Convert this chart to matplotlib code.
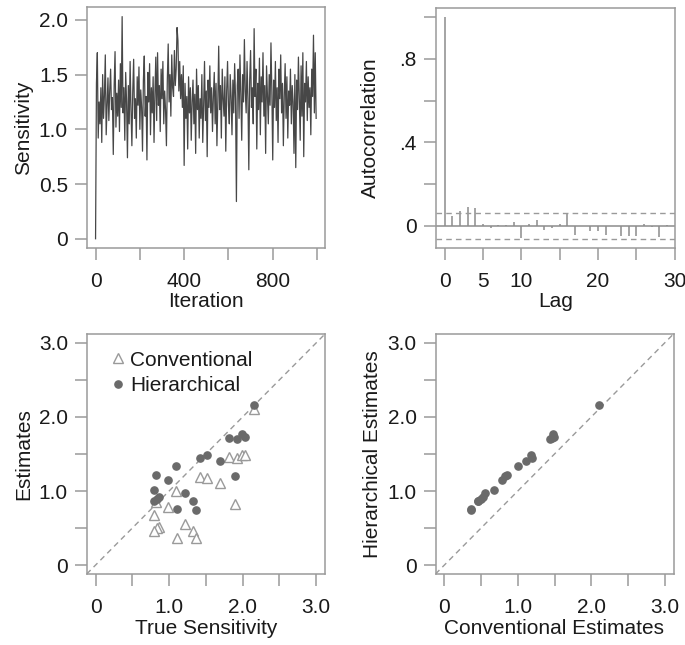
import numpy as np
import matplotlib
matplotlib.use("Agg")
import matplotlib.pyplot as plt

plt.rcParams["font.family"] = ["Liberation Sans", "DejaVu Sans"]
plt.rcParams["font.size"] = 15

# MCMC trace of sensitivity (every 4th iteration)
trace = [
    0.00, 1.42, 1.70, 0.92, 1.25, 1.05, 1.38, 0.88, 1.50, 1.10,
    1.31, 1.68, 0.95, 1.22, 1.47, 1.08, 1.36, 1.55, 1.18, 1.29,
    0.77, 1.40, 1.71, 1.02, 1.33, 1.12, 1.45, 0.98, 1.60, 1.20,
    2.03, 1.15, 1.38, 0.90, 1.52, 1.25, 0.74, 1.40, 1.05, 1.62,
    1.18, 0.85, 1.35, 1.64, 1.10, 1.28, 0.92, 1.48, 1.22, 1.57,
    1.00, 1.36, 1.20, 0.80, 1.45, 1.67, 1.12, 1.30, 0.72, 1.52,
    1.25, 1.60, 0.95, 1.38, 1.15, 1.48, 0.88, 1.32, 1.66, 1.08,
    1.70, 1.22, 1.40, 0.98, 1.55, 1.28, 1.62, 1.05, 1.35, 1.18,
    0.85, 1.45, 1.78, 1.25, 1.50, 1.12, 1.68, 1.38, 1.30, 1.72,
    1.40, 1.55, 1.93, 1.81, 1.35, 1.62, 1.28, 1.50, 1.20, 1.58,
    0.67, 1.42, 1.10, 1.30, 0.82, 1.48, 1.15, 1.38, 0.90, 1.25,
    1.45, 1.05, 1.32, 0.78, 1.55, 1.18, 1.40, 0.92, 1.28, 1.10,
    1.50, 0.88, 1.22, 1.62, 1.08, 1.35, 0.75, 1.45, 1.20, 1.58,
    1.15, 1.38, 0.98, 1.30, 1.52, 1.05, 1.42, 0.85, 1.25, 1.76,
    1.18, 1.40, 0.92, 1.55, 1.28, 1.12, 1.48, 0.80, 1.35, 1.62,
    1.22, 1.05, 1.50, 1.30, 0.95, 1.45, 1.15, 1.60, 1.28, 0.34,
    1.40, 1.55, 1.10, 1.68, 1.32, 0.90, 1.50, 1.25, 1.82, 1.35,
    1.15, 1.62, 1.28, 0.63, 1.45, 1.72, 1.20, 1.38, 1.05, 1.92,
    1.30, 1.55, 0.82, 1.42, 1.18, 1.65, 0.95, 1.48, 1.25, 1.70,
    1.12, 1.40, 0.78, 1.58, 1.30, 1.05, 1.50, 1.22, 1.79, 1.35,
    0.72, 1.45, 1.20, 1.62, 1.08, 1.38, 0.88, 1.55, 1.28, 1.68,
    1.15, 1.42, 0.85, 1.30, 1.60, 1.10, 1.48, 0.92, 1.35, 1.22,
    1.55, 1.05, 1.40, 1.25, 0.78, 1.50, 0.65, 1.45, 1.18, 1.66,
    1.30, 0.90, 1.58, 1.12, 1.70, 0.75, 1.42, 1.25, 1.62, 1.08,
    1.48, 1.20, 1.38, 0.95, 1.55, 1.30, 1.86, 1.15, 1.70, 1.10,
]
iter_step = 4

# autocorrelation, lags 0..30
acf = [1.0, 0.049, 0.070, 0.089, 0.086, 0.010, -0.013, 0.002, 0.006, 0.016,
       -0.057, 0.008, 0.030, -0.021, -0.010, 0.010, 0.061, -0.043, -0.002, -0.024,
       -0.024, -0.043, 0.001, -0.049, -0.049, -0.048, 0.008, -0.006, -0.053, 0.003, 0.0]
conf = 0.062

# per-subject sensitivities
true_sens = [2.15, 1.82, 1.92, 1.99, 2.03, 1.42, 1.52, 1.09, 1.69, 1.89,
             0.82, 0.98, 1.22, 0.80, 0.86, 0.84, 0.79, 1.11, 1.33, 1.37]
conventional = [2.11, 1.46, 1.44, 1.48, 1.49, 1.19, 1.18, 1.00, 1.11, 0.83,
                0.85, 0.78, 0.56, 0.67, 0.52, 0.50, 0.46, 0.36, 0.46, 0.36]
hierarchical = [2.16, 1.71, 1.70, 1.77, 1.73, 1.45, 1.48, 1.34, 1.40, 1.20,
                1.21, 1.15, 0.98, 1.02, 0.92, 0.89, 0.86, 0.76, 0.86, 0.75]

box_col = "#9a9a9a"
txt_col = "#1a1a1a"

fig = plt.figure(figsize=(6.85, 6.45), dpi=100)
W, H = 685, 645


def make_ax(x0, y0, x1, y1):
    ax = fig.add_axes([x0 / W, 1 - y1 / H, (x1 - x0) / W, (y1 - y0) / H])
    for s in ax.spines.values():
        s.set_color(box_col)
        s.set_linewidth(1.1)
    ax.tick_params(direction="out", length=8.5, width=1.1, color=box_col,
                   labelcolor=txt_col, labelsize=15)
    ax.tick_params(axis="x", pad=9)
    ax.tick_params(axis="y", pad=5)
    return ax


# top left: trace
ax1 = make_ax(86.7, 7.3, 325, 247.5)
it = np.arange(len(trace)) * iter_step
ax1.plot(it, trace, color="#000000", lw=0.9, alpha=0.72)
ax1.set_xlim(-40, 1036)
ax1.set_ylim(-0.08, 2.115)
ax1.set_xticks([0, 200, 400, 600, 800, 1000])
ax1.set_xticklabels(["0", "", "400", "", "800", ""])
ax1.set_yticks([0, 0.5, 1.0, 1.5, 2.0])
ax1.set_yticklabels(["0", "0.5", "1.0", "1.5", "2.0"])
ax1.set_xlabel("Iteration", color=txt_col, fontsize=15, labelpad=1)
ax1.set_ylabel("Sensitivity", color=txt_col, fontsize=15, labelpad=4)

# top right: autocorrelation
ax2 = make_ax(435.7, 8.3, 675, 247.7)
lags = np.arange(len(acf))
ax2.vlines(lags, 0, acf, color="#8c8c8c", lw=1.1)
ax2.axhline(0, color="#8c8c8c", lw=1.1)
ax2.axhline(conf, color="#9a9a9a", lw=1.0, ls=(0, (4, 3)))
ax2.axhline(-conf, color="#9a9a9a", lw=1.0, ls=(0, (4, 3)))
ax2.set_xlim(-1.15, 30.05)
ax2.set_ylim(-0.105, 1.042)
ax2.set_xticks([0, 5, 10, 15, 20, 25, 30])
ax2.set_xticklabels(["0", "5", "10", "", "20", "", "30"])
ax2.set_yticks([0, 0.2, 0.4, 0.6, 0.8, 1.0])
ax2.set_yticklabels(["0", "", ".4", "", ".8", ""])
ax2.set_xlabel("Lag", color=txt_col, fontsize=15, labelpad=1)
ax2.set_ylabel("Autocorrelation", color=txt_col, fontsize=15, labelpad=14)

# bottom left: estimates vs true
ax3 = make_ax(86.7, 334, 325, 574)
ax3.plot([-0.12, 3.12], [-0.12, 3.12], color="#9a9a9a", lw=1.0, ls=(0, (4, 3)))
ax3.plot(true_sens, conventional, ls="none", marker="^", ms=7, mfc="white",
         mec="#9a9a9a", mew=1.0, label="Conventional")
ax3.plot(true_sens, hierarchical, ls="none", marker="o", ms=5.2, mfc="#6a6a6a",
         mec="#6a6a6a", label="Hierarchical")
ax3.set_xlim(-0.12, 3.12)
ax3.set_ylim(-0.12, 3.12)
ticks = [0, 0.5, 1.0, 1.5, 2.0, 2.5, 3.0]
tlabs = ["0", "", "1.0", "", "2.0", "", "3.0"]
ax3.set_xticks(ticks)
ax3.set_xticklabels(tlabs)
ax3.set_yticks(ticks)
ax3.set_yticklabels(tlabs)
ax3.set_xlabel("True Sensitivity", color=txt_col, fontsize=15, labelpad=1)
ax3.set_ylabel("Estimates", color=txt_col, fontsize=15, labelpad=4)
leg = ax3.legend(loc="upper left", bbox_to_anchor=(0.07, 0.965), frameon=False,
                 handlelength=0.6, handletextpad=0.3, labelspacing=0.3,
                 borderaxespad=0, fontsize=15)
for t in leg.get_texts():
    t.set_color(txt_col)

# bottom right: hierarchical vs conventional
ax4 = make_ax(435.5, 334, 673.5, 574)
ax4.plot([-0.12, 3.12], [-0.12, 3.12], color="#9a9a9a", lw=1.0, ls=(0, (4, 3)))
ax4.plot(conventional, hierarchical, ls="none", marker="o", ms=5.2,
         mfc="#6a6a6a", mec="#6a6a6a")
ax4.set_xlim(-0.12, 3.12)
ax4.set_ylim(-0.12, 3.12)
ax4.set_xticks(ticks)
ax4.set_xticklabels(tlabs)
ax4.set_yticks(ticks)
ax4.set_yticklabels(tlabs)
ax4.set_xlabel("Conventional Estimates", color=txt_col, fontsize=15, labelpad=1)
ax4.set_ylabel("Hierarchical Estimates", color=txt_col, fontsize=15, labelpad=4)

fig.savefig("out.png", dpi=100)
